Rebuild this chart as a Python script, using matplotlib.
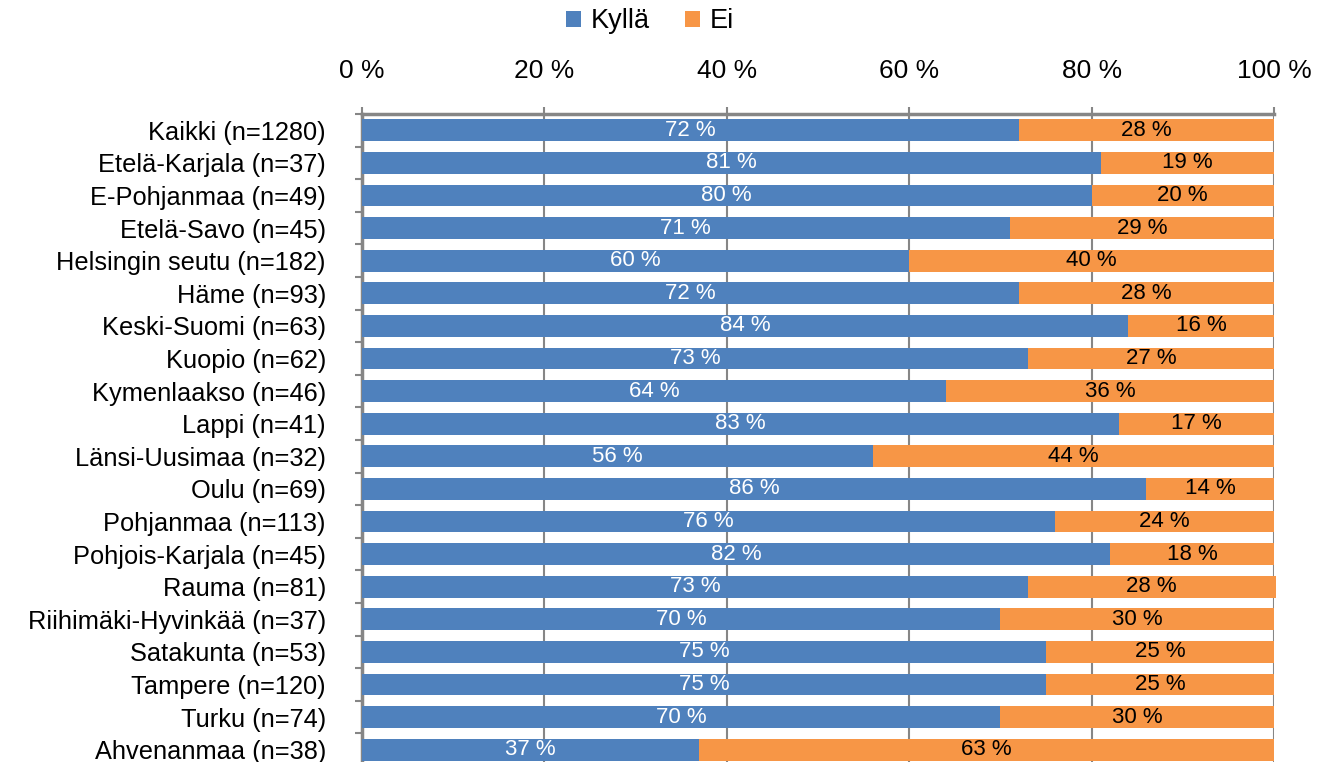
import matplotlib.pyplot as plt
import numpy as np

plt.rcParams['font.family'] = ['Liberation Sans', 'DejaVu Sans']

categories = ["Kaikki (n=1280)", "Etelä-Karjala (n=37)", "E-Pohjanmaa (n=49)", "Etelä-Savo (n=45)",
              "Helsingin seutu (n=182)", "Häme (n=93)", "Keski-Suomi (n=63)", "Kuopio (n=62)",
              "Kymenlaakso (n=46)", "Lappi (n=41)", "Länsi-Uusimaa (n=32)", "Oulu (n=69)",
              "Pohjanmaa (n=113)", "Pohjois-Karjala (n=45)", "Rauma (n=81)", "Riihimäki-Hyvinkää (n=37)",
              "Satakunta (n=53)", "Tampere (n=120)", "Turku (n=74)", "Ahvenanmaa (n=38)"]
kylla = [72, 81, 80, 71, 60, 72, 84, 73, 64, 83, 56, 86, 76, 82, 73, 70, 75, 75, 70, 37]
ei = [28, 19, 20, 29, 40, 28, 16, 27, 36, 17, 44, 14, 24, 18, 27.2, 30, 25, 25, 30, 63]
# shown labels (rounded values as printed in the chart)
kylla_lbl = [72, 81, 80, 71, 60, 72, 84, 73, 64, 83, 56, 86, 76, 82, 73, 70, 75, 75, 70, 37]
ei_lbl = [28, 19, 20, 29, 40, 28, 16, 27, 36, 17, 44, 14, 24, 18, 28, 30, 25, 25, 30, 63]

blue = '#4F81BD'
orange = '#F79646'
grey = '#868686'

fig = plt.figure(figsize=(13.32, 7.62), dpi=100)
ax = fig.add_axes([362/1332, 1 - 766/762, 912/1332, 652/762])

y = np.arange(len(categories))
b1 = ax.barh(y, kylla, height=0.67, color=blue, label='Kyllä', zorder=3)
b2 = ax.barh(y, ei, left=kylla, height=0.67, color=orange, label='Ei', zorder=3, clip_on=False)

for i in range(len(categories)):
    ax.text(kylla[i] / 2, y[i], f"{kylla_lbl[i]} %", ha='center', va='center',
            color='white', fontsize=16, zorder=4)
    ax.text(kylla[i] + ei[i] / 2, y[i], f"{ei_lbl[i]} %", ha='center', va='center',
            color='black', fontsize=16, zorder=4)

ax.set_xlim(0, 100)
ax.set_ylim(len(categories) - 0.5, -0.5)
ax.xaxis.tick_top()
ax.set_xticks(np.arange(0, 101, 20))
ax.set_xticklabels([f"{v} %" for v in range(0, 101, 20)], fontsize=19)
ax.tick_params(axis='x', direction='out', length=5, color=grey, width=1.5, pad=17)
ax.grid(axis='x', color=grey, linewidth=1.5, zorder=0)

ax.set_yticks(y)
ax.set_yticklabels(categories, fontsize=18.3)
ax.set_yticks(np.arange(-0.5, len(categories), 1), minor=True)
ax.tick_params(axis='y', which='major', length=0, pad=26)
ax.tick_params(axis='y', which='minor', direction='out', length=5, color=grey, width=1.5)

for s in ['right', 'bottom']:
    ax.spines[s].set_visible(False)
for s in ['top', 'left']:
    ax.spines[s].set_color(grey)
    ax.spines[s].set_linewidth(2.5)

fig.legend(handles=[b1, b2], loc='center', bbox_to_anchor=(0.488, 0.972), ncol=2,
           frameon=False, fontsize=19.5, handlelength=0.55, handleheight=0.55,
           handletextpad=0.35, columnspacing=1.3)

fig.savefig('out.png', dpi=100)
